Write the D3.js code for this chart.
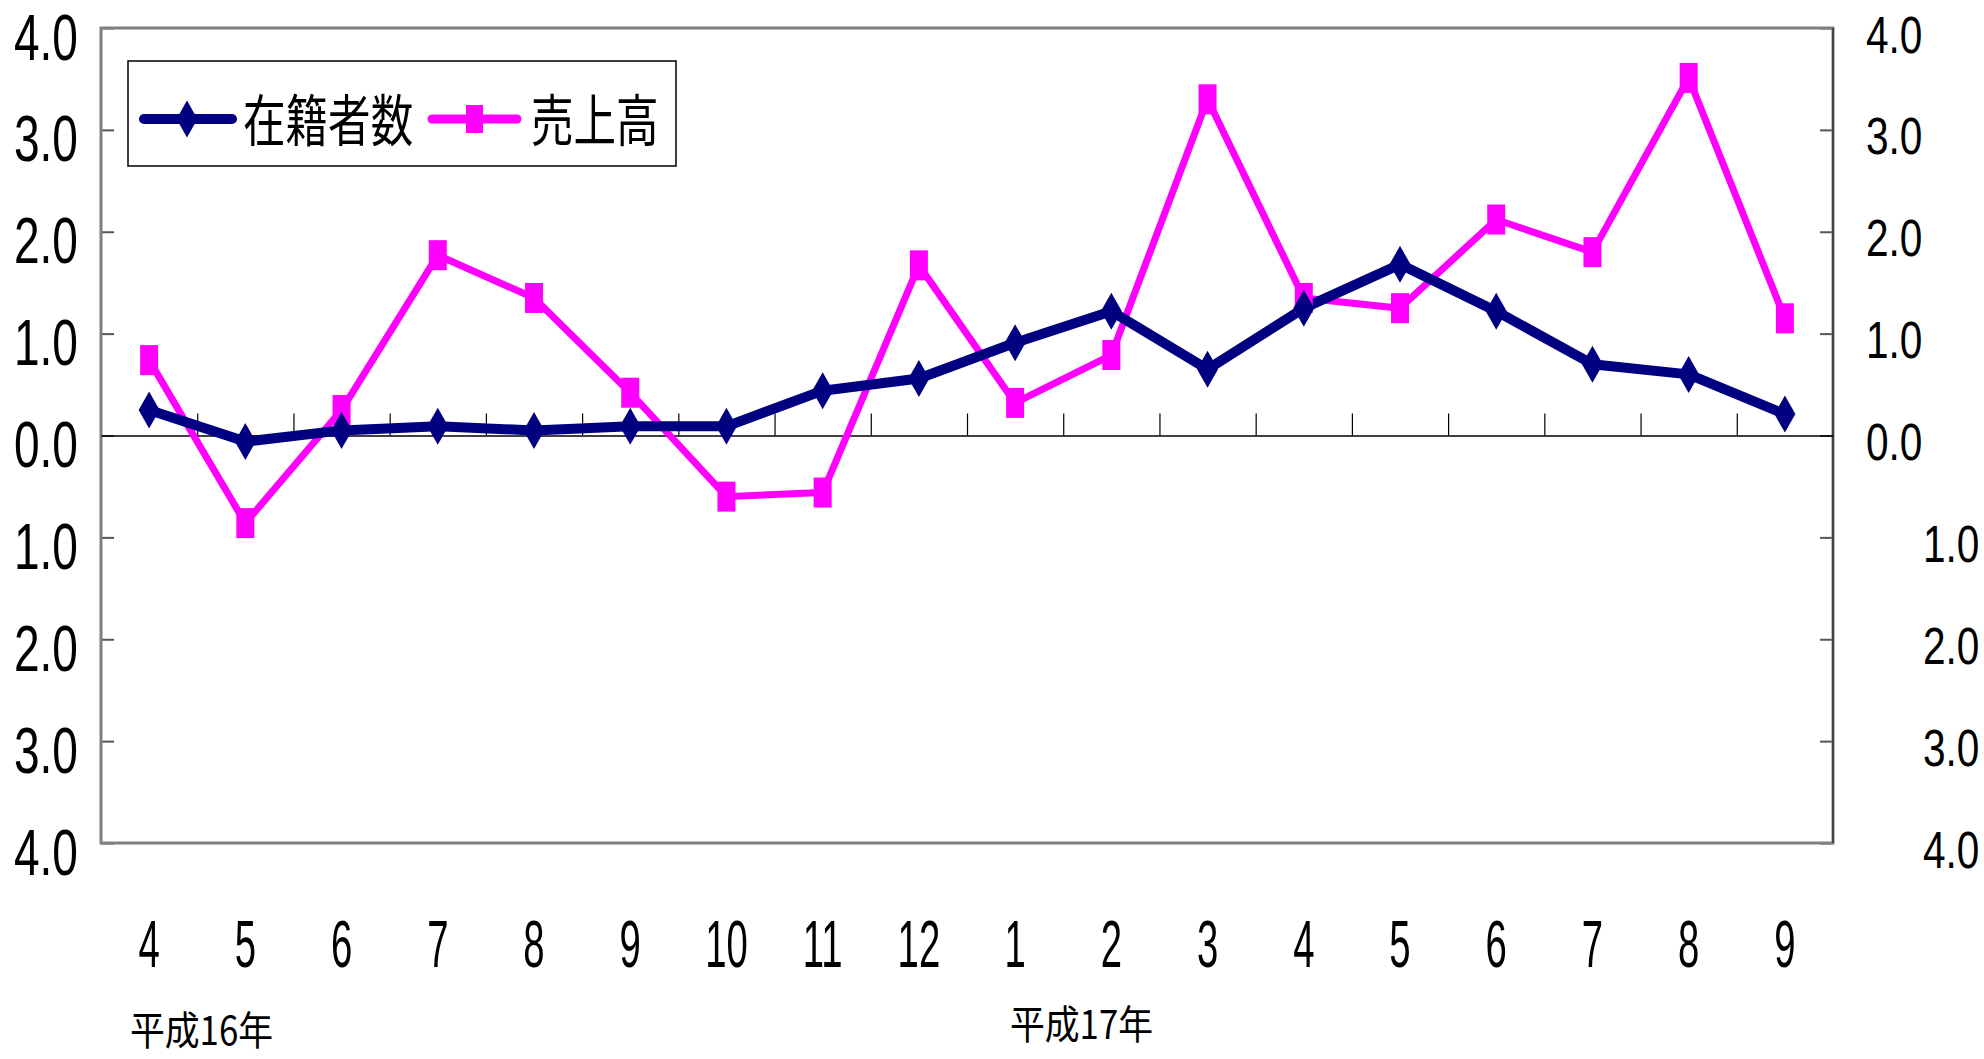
<!DOCTYPE html>
<html>
<head>
<meta charset="utf-8">
<script src="https://cdn.jsdelivr.net/npm/d3@7"></script>
<style>
  body { margin: 0; background: #fff; }
  svg { display: block; }
</style>
</head>
<body>
<div id="chart"></div>
<script>
// months Apr H16 .. Sep H17
var months = ["4","5","6","7","8","9","10","11","12","1","2","3","4","5","6","7","8","9"];
var members = [0.25,-0.06,0.05,0.09,0.05,0.09,0.09,0.44,0.56,0.91,1.22,0.65,1.25,1.68,1.22,0.70,0.60,0.21];
var sales = [0.74,-0.86,0.25,1.77,1.35,0.42,-0.60,-0.56,1.67,0.32,0.79,3.30,1.35,1.25,2.12,1.80,3.51,1.15];
var yTicks = [-4,-3,-2,-1,0,1,2,3,4];
var seriesNames = ["在籍者数","売上高"];
var yearLabels = ["平成16年","平成17年"];

var W = 1984, H = 1059;
var margin = {top: 28, right: 151, bottom: 216, left: 101},
    width = W - margin.left - margin.right,
    height = H - margin.top - margin.bottom;

var navy = "#000080", pink = "#ff00ff";

var svg = d3.select("#chart").append("svg")
    .attr("width", W)
    .attr("height", H);
svg.append("rect").attr("width", W).attr("height", H).attr("fill", "#fff");

var g = svg.append("g")
    .attr("transform", "translate(" + margin.left + "," + margin.top + ")");

var x = d3.scaleBand().domain(d3.range(months.length)).range([0, width]);
var xEdge = d3.scaleLinear().domain([0, months.length]).range([0, width]);
var y = d3.scaleLinear().domain([-4, 4]).range([height, 0]);
var cx = function(i) { return x(i) + x.bandwidth() / 2; };

// left ticks (inward) + labels
var left = g.append("g")
    .call(d3.axisLeft(y).tickValues(yTicks).tickSize(-13).tickFormat(function(d){ return Math.abs(d).toFixed(1); }));
left.select(".domain").remove();
left.selectAll("line").attr("stroke", "#555").attr("stroke-width", 2);
left.selectAll("text")
    .attr("x", 0).attr("dy", null).attr("y", 31)
    .attr("transform", "translate(-23,0) scale(0.72,1)")
    .style("font-family", "'Liberation Sans', Arial, sans-serif")
    .style("font-size", "64px")
    .attr("fill", "#000");

// right ticks (inward) + labels
var right = g.append("g")
    .attr("transform", "translate(" + width + ",0)")
    .call(d3.axisRight(y).tickValues(yTicks).tickSize(-13).tickFormat(function(d){ return Math.abs(d).toFixed(1); }));
right.select(".domain").remove();
right.selectAll("line").attr("stroke", "#555").attr("stroke-width", 2);
right.selectAll("text")
    .attr("x", 0).attr("dy", null).attr("y", 24)
    .attr("transform", function(d){ return "translate(" + (d < 0 ? 90 : 33) + ",0) scale(0.78,1)"; })
    .style("text-anchor", "start")
    .style("font-family", "'Liberation Sans', Arial, sans-serif")
    .style("font-size", "52px")
    .attr("fill", "#000");

// plot border
g.append("rect")
    .attr("width", width).attr("height", height)
    .attr("fill", "none").attr("stroke", "#808080").attr("stroke-width", 3);
g.append("line").attr("x1", width).attr("x2", width).attr("y1", 0).attr("y2", height)
    .attr("stroke", "#444").attr("stroke-width", 2);

// category axis on the zero line, ticks upward
var xa = g.append("g")
    .attr("transform", "translate(0," + y(0) + ")")
    .call(d3.axisTop(xEdge).tickValues(d3.range(1, months.length)).tickSize(22).tickSizeOuter(0).tickFormat(""));
xa.select(".domain").attr("stroke", "#000").attr("stroke-width", 1.5);
xa.selectAll("line").attr("stroke", "#000").attr("stroke-width", 1.2);

// month labels
g.selectAll(".mlab")
    .data(months)
    .enter().append("text")
    .attr("transform", function(d, i){ return "translate(" + cx(i) + "," + (height + 124) + ") scale(0.58,1)"; })
    .attr("text-anchor", "middle")
    .style("font-family", "'Liberation Sans', Arial, sans-serif")
    .style("font-size", "66px")
    .text(function(d){ return d; });

// lines
var line = function(vals) {
  return d3.line().x(function(d, i){ return cx(i); }).y(function(d){ return y(d); })(vals);
};
g.append("path").attr("d", line(sales))
    .attr("fill", "none").attr("stroke", pink).attr("stroke-width", 7).attr("stroke-linejoin", "round");
g.append("path").attr("d", line(members))
    .attr("fill", "none").attr("stroke", navy).attr("stroke-width", 10).attr("stroke-linejoin", "round");

var diamond = "M0,-18.5L10.5,0L0,18.5L-10.5,0Z";
g.selectAll(".sq")
    .data(sales)
    .enter().append("rect")
    .attr("x", function(d, i){ return cx(i) - 9; })
    .attr("y", function(d){ return y(d) - 15; })
    .attr("width", 18).attr("height", 30)
    .attr("fill", pink);
g.selectAll(".dm")
    .data(members)
    .enter().append("path")
    .attr("d", diamond)
    .attr("transform", function(d, i){ return "translate(" + cx(i) + "," + y(d) + ")"; })
    .attr("fill", navy);

// legend
var lg = svg.append("g");
lg.append("rect").attr("x", 128).attr("y", 61).attr("width", 548).attr("height", 105)
    .attr("fill", "#fff").attr("stroke", "#000").attr("stroke-width", 1.5);
lg.append("line").attr("x1", 144).attr("x2", 232).attr("y1", 119).attr("y2", 119)
    .attr("stroke", navy).attr("stroke-width", 10).attr("stroke-linecap", "round");
lg.append("path").attr("d", diamond).attr("transform", "translate(187,119)").attr("fill", navy);
lg.append("line").attr("x1", 432).attr("x2", 517).attr("y1", 119).attr("y2", 119)
    .attr("stroke", pink).attr("stroke-width", 9).attr("stroke-linecap", "round");
lg.append("rect").attr("x", 466).attr("y", 105).attr("width", 17).attr("height", 28).attr("fill", pink);
lg.selectAll(".ltxt")
    .data(seriesNames)
    .enter().append("text")
    .attr("transform", function(d, i){ return "translate(" + (i === 0 ? 243 : 531) + ",141) scale(0.76,1)"; })
    .style("font-family", "'Noto Sans CJK JP', sans-serif")
    .style("font-size", "56px")
    .text(function(d){ return d; });

// year labels
svg.selectAll(".ylab")
    .data(yearLabels)
    .enter().append("text")
    .attr("transform", function(d, i){ return i === 0 ? "translate(130,1045) scale(0.87,1)" : "translate(1010,1039) scale(0.87,1)"; })
    .style("font-family", "'Noto Sans CJK JP', sans-serif")
    .style("font-size", "40px")
    .text(function(d){ return d; });
</script>
</body>
</html>
